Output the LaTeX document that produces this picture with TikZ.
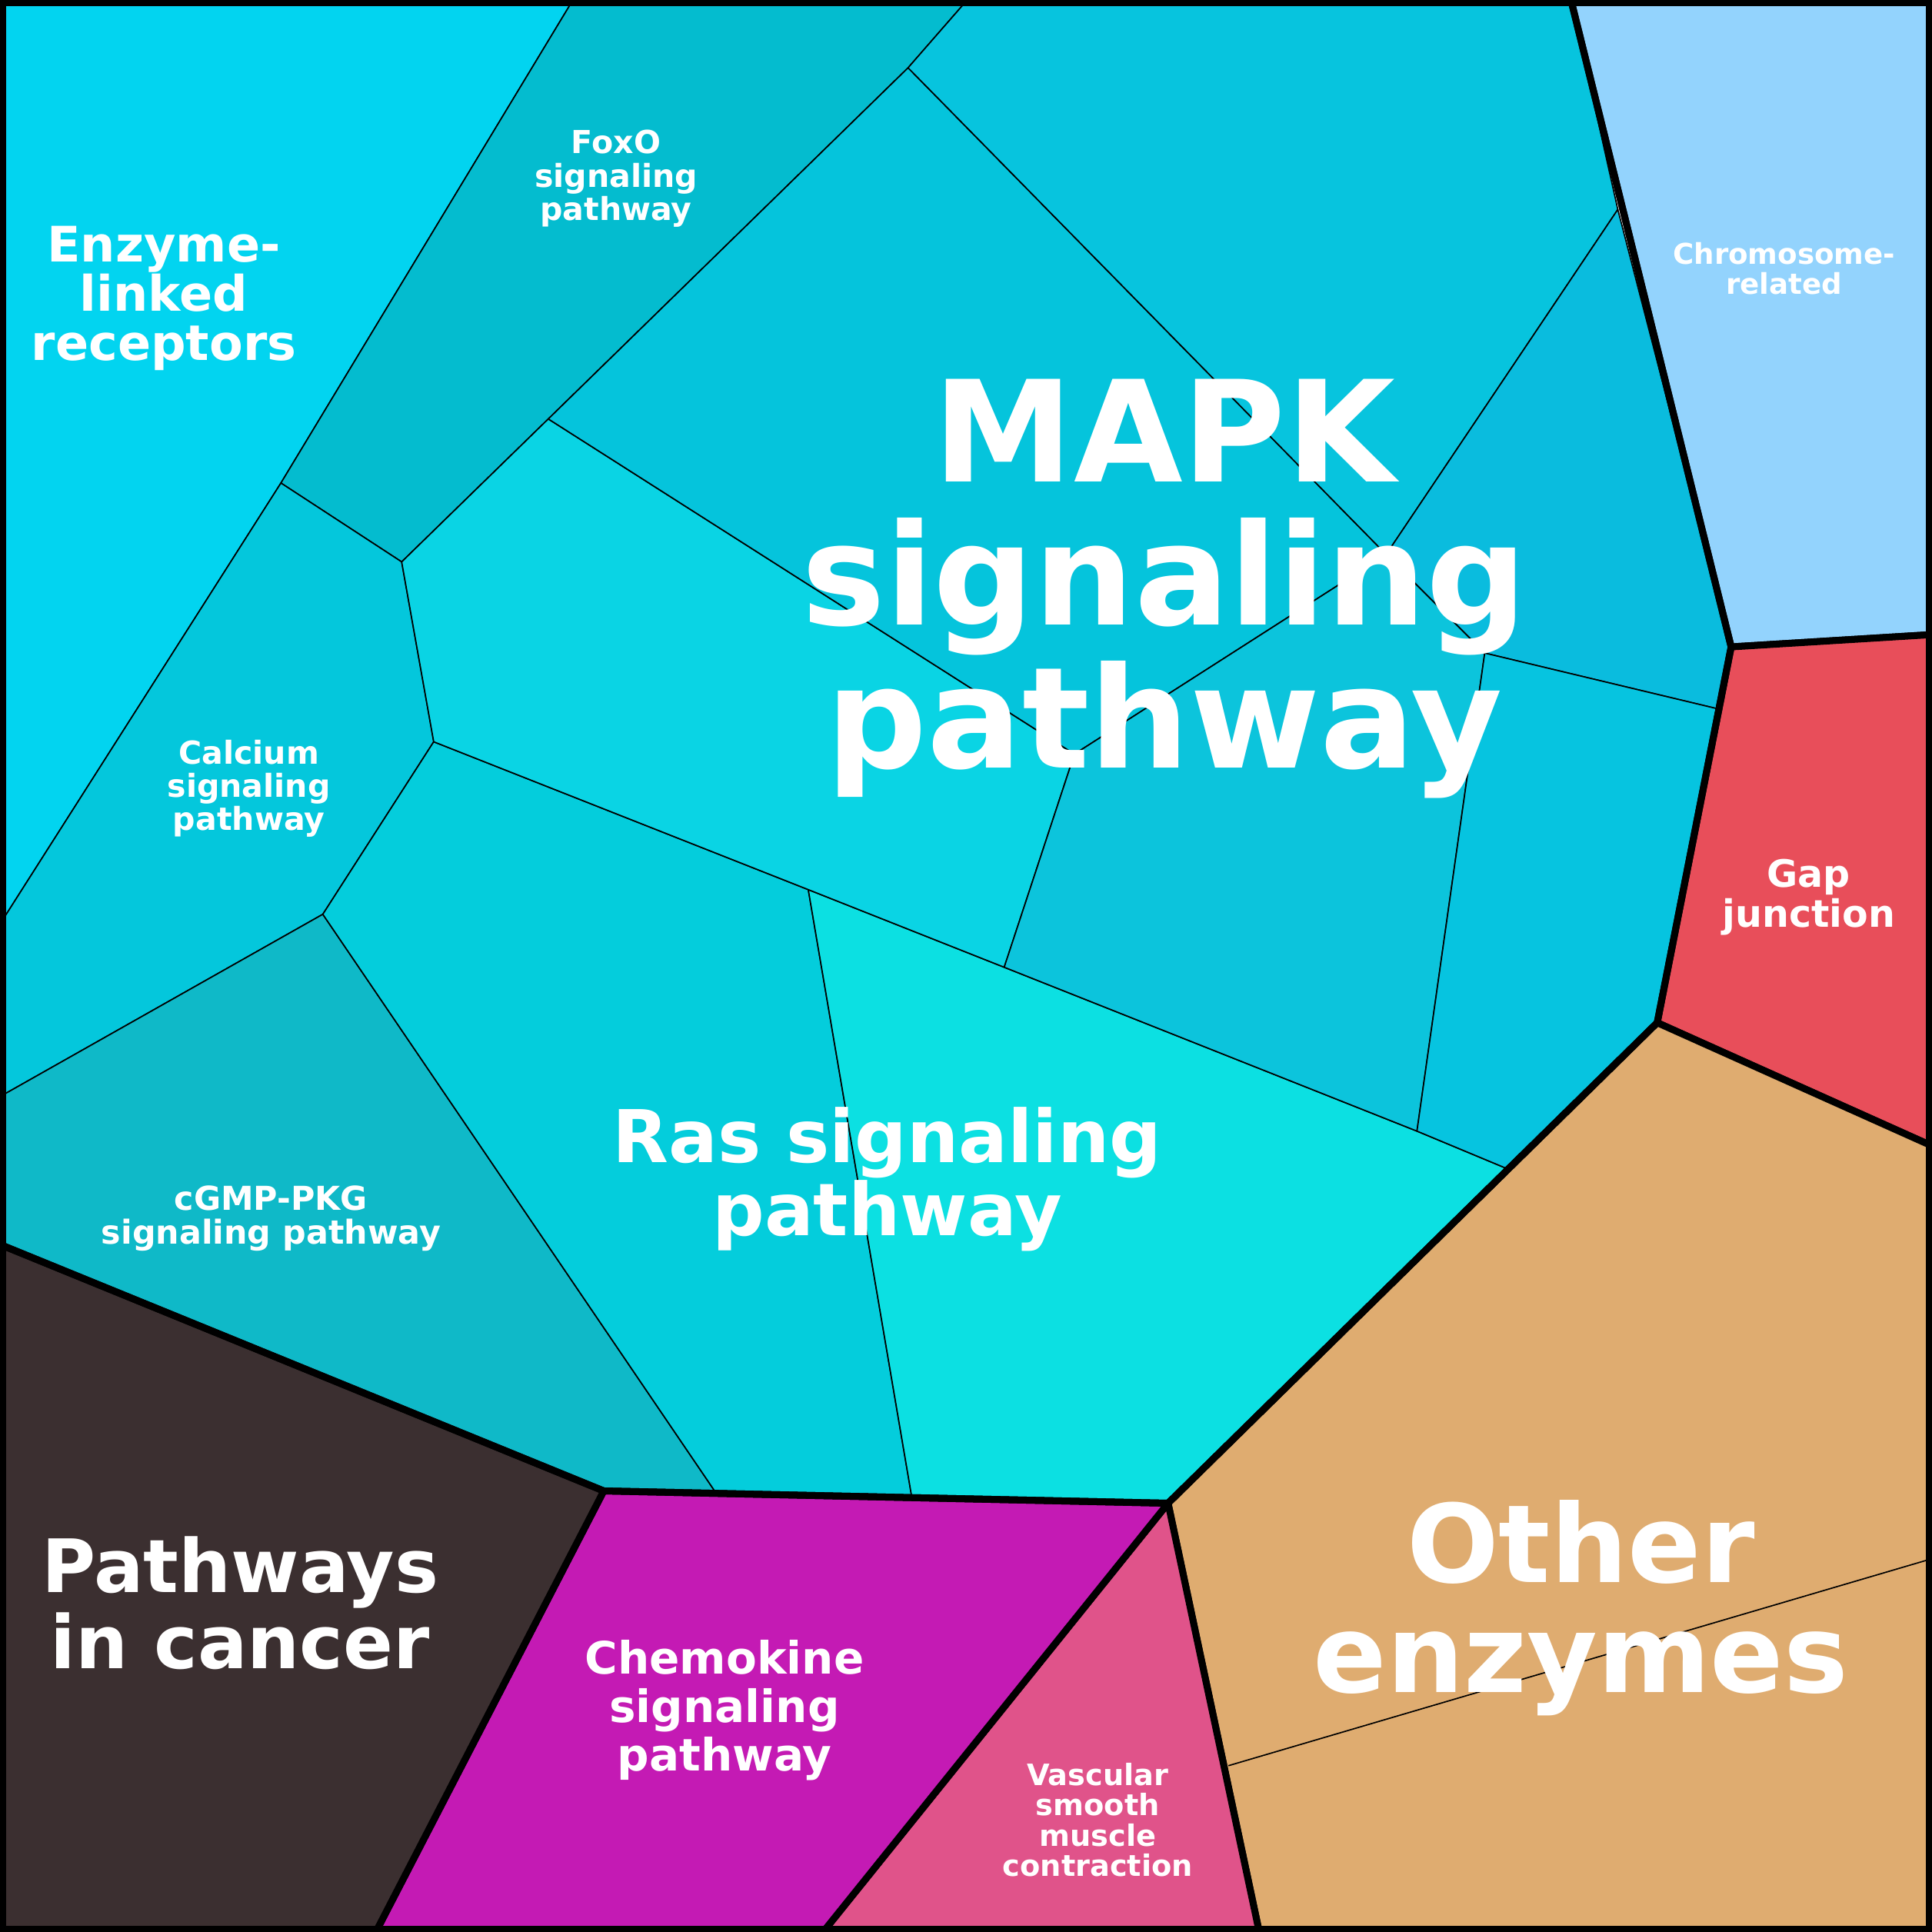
\documentclass[tikz,border=0pt]{standalone}
\usepackage{fontspec}
\setmainfont{DejaVu Sans}
\begin{document}
\begin{tikzpicture}[x=0.01cm,y=-0.01cm,
 thin/.style={draw=black,line width=0.3pt,line join=round},
 thick/.style={draw=black,line width=1.6pt,line join=round},
 lbl/.style={text=white,font=\bfseries,align=center,inner sep=0pt}]
\useasboundingbox (0,0) rectangle (1568,1568);
% sub-cells
\path[thin,fill={rgb,255:red,2;green,212;blue,240}] (0,0)--(465,0)--(228,392)--(0,750)--cycle;
\path[thin,fill={rgb,255:red,4;green,188;blue,207}] (465,0)--(785,0)--(737,55)--(445,340)--(326,456)--(228,392)--cycle;
\path[thin,fill={rgb,255:red,4;green,199;blue,220}] (228,392)--(326,456)--(352,602)--(262,742)--(0,890)--(0,750)--cycle;
\path[thin,fill={rgb,255:red,15;green,185;blue,200}] (0,890)--(262,742)--(580,1210)--(490,1210)--(0,1010)--cycle;
\path[thin,fill={rgb,255:red,4;green,205;blue,220}] (352,602)--(656,722)--(740,1215)--(580,1210)--(262,742)--cycle;
\path[thin,fill={rgb,255:red,12;green,224;blue,226}] (656,722)--(815,785)--(1150,918)--(1222,948)--(948,1220)--(740,1215)--cycle;
\path[thin,fill={rgb,255:red,10;green,212;blue,228}] (445,340)--(872,612)--(815,785)--(656,722)--(352,602)--(326,456)--cycle;
\path[thin,fill={rgb,255:red,5;green,196;blue,220}] (445,340)--(737,55)--(1125,450)--(872,612)--cycle;
\path[thin,fill={rgb,255:red,7;green,196;blue,222}] (737,55)--(785,0)--(1275,0)--(1313,170)--(1125,450)--cycle;
\path[thin,fill={rgb,255:red,10;green,188;blue,222}] (1125,450)--(1313,170)--(1405,525)--(1393,575)--(1205,530)--cycle;
\path[thin,fill={rgb,255:red,12;green,196;blue,220}] (872,612)--(1125,450)--(1205,530)--(1150,918)--(815,785)--cycle;
\path[thin,fill={rgb,255:red,6;green,196;blue,224}] (1205,530)--(1393,575)--(1345,830)--(1222,948)--(1150,918)--cycle;
% top-level cells
\path[thick,fill={rgb,255:red,147;green,211;blue,253}] (1275,0)--(1568,0)--(1568,515)--(1405,525)--cycle;
\path[thick,fill={rgb,255:red,232;green,78;blue,90}] (1405,525)--(1568,515)--(1568,930)--(1345,830)--cycle;
\path[thick,fill={rgb,255:red,223;green,172;blue,112}] (1345,830)--(1568,930)--(1568,1568)--(1022,1568)--(948,1220)--cycle;
\draw[thin] (997,1433)--(1568,1265);
\path[thick,fill={rgb,255:red,224;green,83;blue,138}] (948,1220)--(1022,1568)--(668,1568)--cycle;
\path[thick,fill={rgb,255:red,196;green,26;blue,180}] (490,1210)--(948,1220)--(668,1568)--(305,1568)--cycle;
\path[thick,fill={rgb,255:red,59;green,47;blue,48}] (0,1010)--(490,1210)--(305,1568)--(0,1568)--cycle;
\draw[thick] (0,1010)--(490,1210)--(948,1220)--(1345,830)--(1405,525)--(1275,0);
\draw[line width=3pt] (0,0) rectangle (1568,1568);
% labels
\node[lbl,font=\bfseries\fontsize{32.5}{33}\selectfont] (mapk) at (945,478) {MAPK\\signaling\\pathway};
\node[lbl,font=\bfseries\fontsize{16.8}{17}\selectfont] (ras) at (720,957) {Ras signaling\\pathway};
\node[lbl,font=\bfseries\fontsize{25}{25.5}\selectfont] (oth) at (1283,1305) {Other\\enzymes};
\node[lbl,font=\bfseries\fontsize{17}{16.5}\selectfont] (pic) at (195,1301) {Pathways\\in cancer};
\node[lbl,font=\bfseries\fontsize{11.3}{11.4}\selectfont] (enz) at (133,242) {Enzyme-\\linked\\receptors};
\node[lbl,font=\bfseries\fontsize{7.3}{7.7}\selectfont] (fox) at (500,145) {FoxO\\signaling\\pathway};
\node[lbl,font=\bfseries\fontsize{7.3}{7.7}\selectfont] (cal) at (202,640) {Calcium\\signaling\\pathway};
\node[lbl,font=\bfseries\fontsize{7.6}{7.9}\selectfont] (cg) at (220,989) {cGMP-PKG\\signaling pathway};
\node[lbl,font=\bfseries\fontsize{6.6}{6.8}\selectfont] (chr) at (1448,218) {Chromosome-\\related};
\node[lbl,font=\bfseries\fontsize{8.7}{9.3}\selectfont] (gap) at (1468,728) {Gap\\junction};
\node[lbl,font=\bfseries\fontsize{10.3}{11.2}\selectfont] (che) at (588,1388) {Chemokine\\signaling\\pathway};
\node[lbl,font=\bfseries\fontsize{6.8}{7}\selectfont] (vas) at (891,1477) {Vascular\\smooth\\muscle\\contraction};
\end{tikzpicture}
\end{document}
